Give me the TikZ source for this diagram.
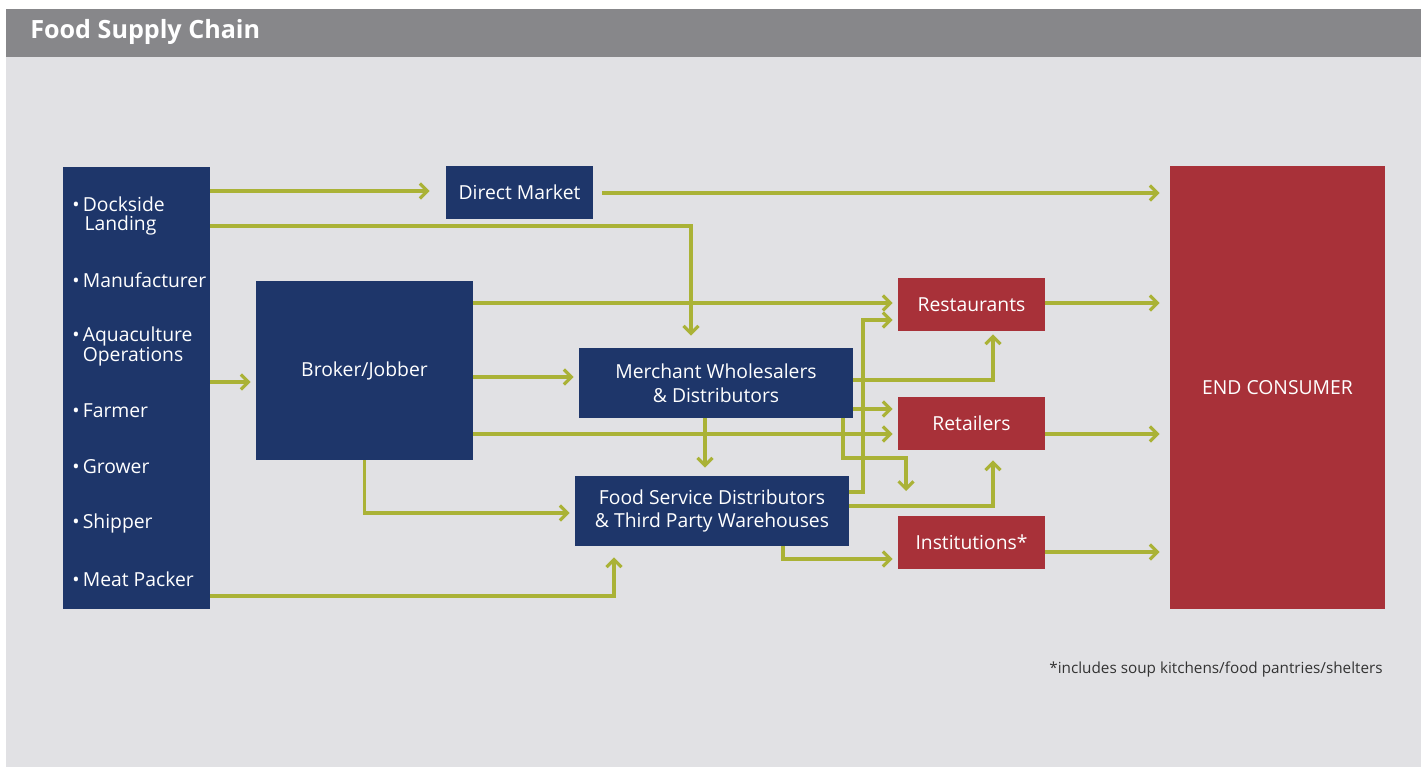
\documentclass[tikz,border=0pt]{standalone}
\usepackage{fontspec}
\setmainfont{Open Sans}
\usetikzlibrary{arrows.meta}

\definecolor{navy}{RGB}{30,54,106}
\definecolor{brick}{RGB}{168,49,57}
\definecolor{olive}{RGB}{170,178,54}
\definecolor{panel}{RGB}{225,225,228}
\definecolor{titlebar}{RGB}{135,135,138}
\definecolor{notegray}{RGB}{51,51,51}

\begin{document}
\begin{tikzpicture}[x=0.02cm, y=-0.02cm,
  navybox/.style={fill=navy, text=white, inner sep=0pt, align=center,
    font=\fontsize{11}{13.6}\selectfont},
  redbox/.style={navybox, fill=brick},
  itemtext/.style={text=white, inner sep=0pt, anchor=west, align=left,
    font=\fontsize{11}{10.5}\selectfont},
  flow/.style={draw=olive, line width=1.8pt, line join=miter,
    -{Straight Barb[length=1.5mm, width=3mm]}, shorten >=0.1cm}]

  % -- Canvas and title bar --
  \useasboundingbox (0,0) rectangle (1421,767);
  \fill[panel] (6,57) rectangle (1421,767);
  \fill[titlebar] (6,9) rectangle (1421,57);
  \node[anchor=west, text=white, inner sep=0pt, font=\bfseries\fontsize{14.3}{17}\selectfont] (title) at (30,32) {Food Supply Chain};

  % -- Sources column --
  \node[navybox, minimum width=2.94cm, minimum height=8.84cm] (src) at (136.5,388) {};
  \node[itemtext] (dock) at (72,216) {•\,Dockside\\\phantom{•\,}\hspace*{1pt}Landing};
  \node[itemtext] (manu) at (72,280) {•\,Manufacturer};
  \node[itemtext] (aqua) at (72,346.5) {•\,Aquaculture\\\phantom{•\,}Operations};
  \node[itemtext] (farm) at (72,411) {•\,Farmer};
  \node[itemtext] (grow) at (72,467) {•\,Grower};
  \node[itemtext] (ship) at (72,523) {•\,Shipper};
  \node[itemtext] (meat) at (72,579) {•\,Meat Packer};

  % -- Intermediaries --
  \node[navybox, minimum width=2.94cm, minimum height=1.06cm] (dm) at (519.5,192.5) {Direct Market};
  \node[navybox, minimum width=4.34cm, minimum height=3.58cm] (brk) at (364.5,370.5) {Broker/Jobber};
  \node[navybox, minimum width=5.48cm, minimum height=1.40cm] (mw) at (716,383) {Merchant Wholesalers\\\& Distributors};
  \node[navybox, minimum width=5.48cm, minimum height=1.40cm] (fsd) at (712,511) {Food Service Distributors\\\& Third Party Warehouses};

  % -- Outlets --
  \node[redbox, minimum width=2.94cm, minimum height=1.06cm] (rest) at (971.5,304.5) {Restaurants};
  \node[redbox, minimum width=2.94cm, minimum height=1.06cm] (ret) at (971.5,423.5) {Retailers};
  \node[redbox, minimum width=2.94cm, minimum height=1.06cm] (inst) at (971.5,542.5) {Institutions*};
  \node[redbox, minimum width=4.30cm, minimum height=8.86cm] (end) at (1277.5,387.5) {END CONSUMER};

  % -- Flows from sources --
  \draw[flow, shorten >=0.32cm] (src.east |- 0,191) -- (dm.west |- 0,191);
  \draw[flow, shorten >=0.24cm] (src.east |- 0,226) -| (mw.north -| 691,0);
  \draw[flow] (src.east |- 0,382) -- (brk.west |- 0,382);
  \draw[flow, shorten >=0.22cm] (src.east |- 0,596) -| (fsd.south -| 614,0);
  \draw[flow, shorten <=0.18cm, shorten >=0.2cm] (dm.east |- 0,193) -- (end.west |- 0,193);

  % -- Flows from broker --
  \draw[flow] (brk.east |- 0,303) -- (rest.west |- 0,303);
  \draw[flow] (brk.east |- 0,377) -- (mw.west |- 0,377);
  \draw[flow] (brk.east |- 0,434) -- (ret.west |- 0,434);
  \draw[flow] (brk.south) |- (fsd.west |- 0,513);

  % -- Flows from wholesalers --
  \coordinate (drop) at (906,491);
  \draw[flow, shorten >=0.06cm] (mw.east |- 0,380) -| (rest.south -| 993,0);
  \draw[flow] (mw.east |- 0,409) -- (ret.west |- 0,409);
  \draw[flow, shorten >=0cm] (mw.south -| 843,0) |- (drop |- 0,458) -- (drop);
  \draw[flow, shorten >=0.16cm] (mw.south -| 705,0) -- (fsd.north -| 705,0);

  % -- Flows from food service --
  \draw[flow] (fsd.east |- 0,492) -| (863,320) -- (rest.west |- 0,320);
  \draw[flow, shorten >=0.2cm] (fsd.east |- 0,506) -| (ret.south -| 993,0);
  \draw[flow] (fsd.south -| 783,0) |- (inst.west |- 0,559);

  % -- Flows to end consumer --
  \draw[flow, shorten >=0.2cm] (rest.east |- 0,303) -- (end.west |- 0,303);
  \draw[flow, shorten >=0.2cm] (ret.east |- 0,434) -- (end.west |- 0,434);
  \draw[flow, shorten >=0.2cm] (inst.east |- 0,552) -- (end.west |- 0,552);

  % -- Footnote --
  \node[anchor=east, text=notegray, inner sep=0pt, font=\fontsize{8.7}{11}\selectfont] (fnote) at (1383,669) {*includes soup kitchens/food pantries/shelters};

\end{tikzpicture}
\end{document}
